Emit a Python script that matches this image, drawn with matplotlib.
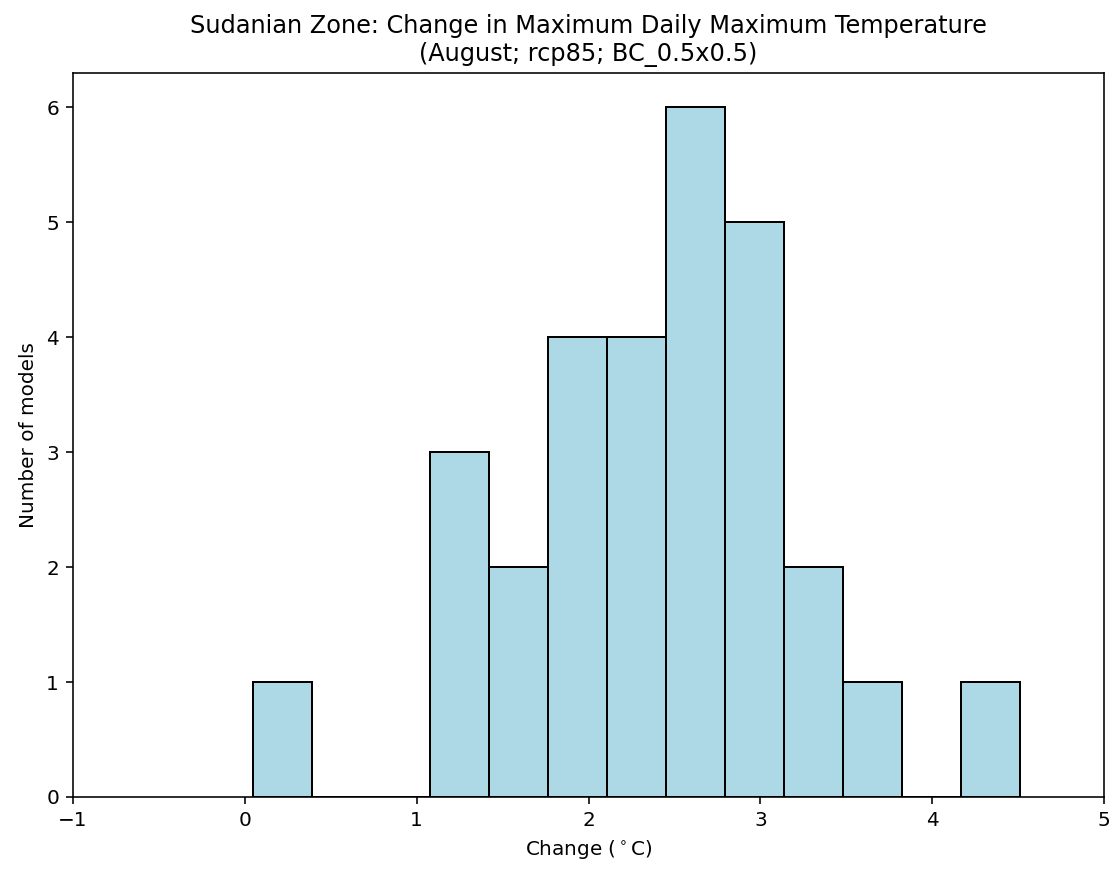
import matplotlib
matplotlib.use("Agg")
import matplotlib.pyplot as plt
import numpy as np

# Histogram bin edges (deg C) and model counts
bin_edges = [0.047, 0.391, 0.734, 1.078, 1.421, 1.765, 2.108,
             2.452, 2.795, 3.139, 3.482, 3.826, 4.170, 4.514]
counts = [1, 0, 0, 3, 2, 4, 4, 6, 5, 2, 1, 0, 1]

title = "Sudanian Zone: Change in Maximum Daily Maximum Temperature\n(August; rcp85; BC_0.5x0.5)"
xlabel = r"Change ($^\circ$C)"
ylabel = "Number of models"

fig = plt.figure(figsize=(1114 / 144, 869 / 144), dpi=144)
ax = fig.add_axes([73 / 1114, 72 / 869, (1104 - 73) / 1114, (797 - 73) / 869])

centers = [(a + b) / 2 for a, b in zip(bin_edges[:-1], bin_edges[1:])]
ax.hist(centers, bins=bin_edges, weights=counts, color="lightblue", edgecolor="black")

ax.set_xlim(-1, 5)
ax.set_title(title)
ax.set_xlabel(xlabel)
ax.set_ylabel(ylabel)

fig.savefig("out.png", dpi=144)
